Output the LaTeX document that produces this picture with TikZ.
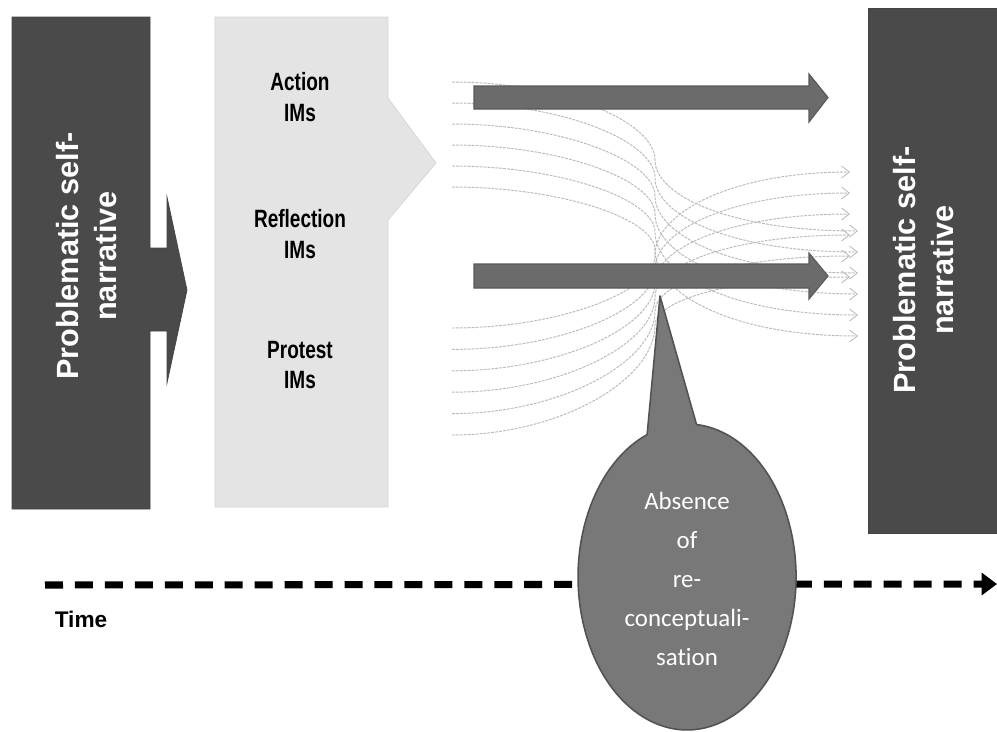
\documentclass[tikz,border=0pt]{standalone}
\usepackage{fontspec}
\setmainfont{Liberation Sans}
\newfontfamily\narrowfont[FakeStretch=0.76]{Liberation Sans}
\newfontfamily\calloutfont[Ligatures={NoCommon}]{Carlito}
\usetikzlibrary{arrows.meta}

\definecolor{boxdark}{HTML}{4A4A4A}
\definecolor{boxlight}{HTML}{E4E4E4}
\definecolor{arrowgray}{HTML}{6B6B6B}
\definecolor{callgray}{HTML}{787878}
\definecolor{flowgray}{HTML}{BBBBBB}

\tikzset{
  darkbox/.style={fill=boxdark,draw=boxdark!90!black,line width=0.5pt},
  lightbox/.style={fill=boxlight,draw=black!17,line width=0.5pt},
  bigarrow/.style={fill=arrowgray,draw=black!65,line width=0.8pt,line join=miter},
  flowline/.style={draw=flowgray,line width=0.7pt,dash pattern=on 2pt off 0.8pt,
    -{Straight Barb[length=5.5pt,width=8.5pt,line width=0.6pt]}},
  boxlabel/.style={text=white,align=center,font=\bfseries\fontsize{21.8}{27}\selectfont,rotate=90},
  imlabel/.style={align=center,font=\narrowfont\bfseries\fontsize{17.8}{22}\selectfont},
  timeline/.style={line width=5pt,dash pattern=on 12.8pt off 8.5pt,
    -{Triangle[length=11pt,width=15.6pt]}}
}

\begin{document}
\begin{tikzpicture}[x=0.025cm,y=-0.025cm]
\useasboundingbox (0,0) rectangle (997,731);

% innovative moments
\draw[lightbox] (215,17) -- (388,17) -- (388,98) -- (436,163) -- (388,220)
  -- (388,507) -- (215,507) -- cycle;
% problematic self-narrative, left
\draw[darkbox] (12,17) -- (150,17) -- (150,248) -- (167,248) -- (167,197) -- (187,290)
  -- (167,383) -- (167,331) -- (150,331) -- (150,509) -- (12,509) -- cycle;

% dotted flows, top group goes down
\foreach \k in {0,...,5}{
  \pgfmathsetmacro\yl{82+21*\k}
  \pgfmathsetmacro\yf{160+18*\k}
  \pgfmathsetmacro\yr{231+21*\k}
  \pgfmathsetmacro\ya{(\yl+\yf)/2}
  \pgfmathsetmacro\yb{(\yf+\yr)/2}
  \coordinate (ts\k) at (452,\yl);
  \coordinate (te\k) at (858,\yr);
  \draw[flowline] (ts\k) .. controls (560,\yl) and (655,\ya) .. (655,\yf)
    .. controls (655,\yb) and (730,\yr) .. (te\k);
}
% bottom group goes up
\foreach \k in {0,...,5}{
  \pgfmathsetmacro\yl{328+21.4*\k}
  \pgfmathsetmacro\yf{255+14*\k}
  \pgfmathsetmacro\yr{172+21*\k}
  \pgfmathsetmacro\ya{(\yl+\yf)/2}
  \pgfmathsetmacro\yb{(\yf+\yr)/2}
  \coordinate (bs\k) at (452,\yl);
  \coordinate (be\k) at (850,\yr);
  \draw[flowline] (bs\k) .. controls (560,\yl) and (655,\ya) .. (655,\yf)
    .. controls (655,\yb) and (730,\yr) .. (be\k);
}

% thick arrows
\draw[bigarrow] (474,86) -- (809,86) -- (809,74) -- (828,97.5) -- (809,122)
  -- (809,109) -- (474,109) -- cycle;
\draw[bigarrow] (474,264) -- (809,264) -- (809,253) -- (828,276) -- (809,299)
  -- (809,288) -- (474,288) -- cycle;

% time
\coordinate (tstart) at (45,585);
\coordinate (tend) at (997,584);
\draw[timeline] (tstart) -- (tend);
\node[font=\bfseries\fontsize{16.1}{19}\selectfont] (time) at (81,619) {Time};

% callout
\fill[callgray,draw=black!68,line width=1.1pt,line join=round]
  (660,296) -- (647.1,434.6)
  arc[start angle=248.5,end angle=-85,x radius=109,y radius=153] -- cycle;
\node[text=white,align=center,font=\calloutfont\fontsize{17.7}{27.7}\selectfont]
  (absence) at (687,579) {Absence\\of\\re-\\conceptuali-\\sation};

% problematic self-narrative, right
\draw[darkbox] (868,8) rectangle (997,533);

\node[boxlabel] (leftlabel) at (87,256) {Problematic self-\\narrative};
\node[boxlabel] (rightlabel) at (924,270) {Problematic self-\\narrative};
\node[imlabel] (action) at (300,97) {Action\\IMs};
\node[imlabel] (reflection) at (300,234) {Reflection\\IMs};
\node[imlabel] (protest) at (300,365) {Protest\\IMs};
\end{tikzpicture}
\end{document}
